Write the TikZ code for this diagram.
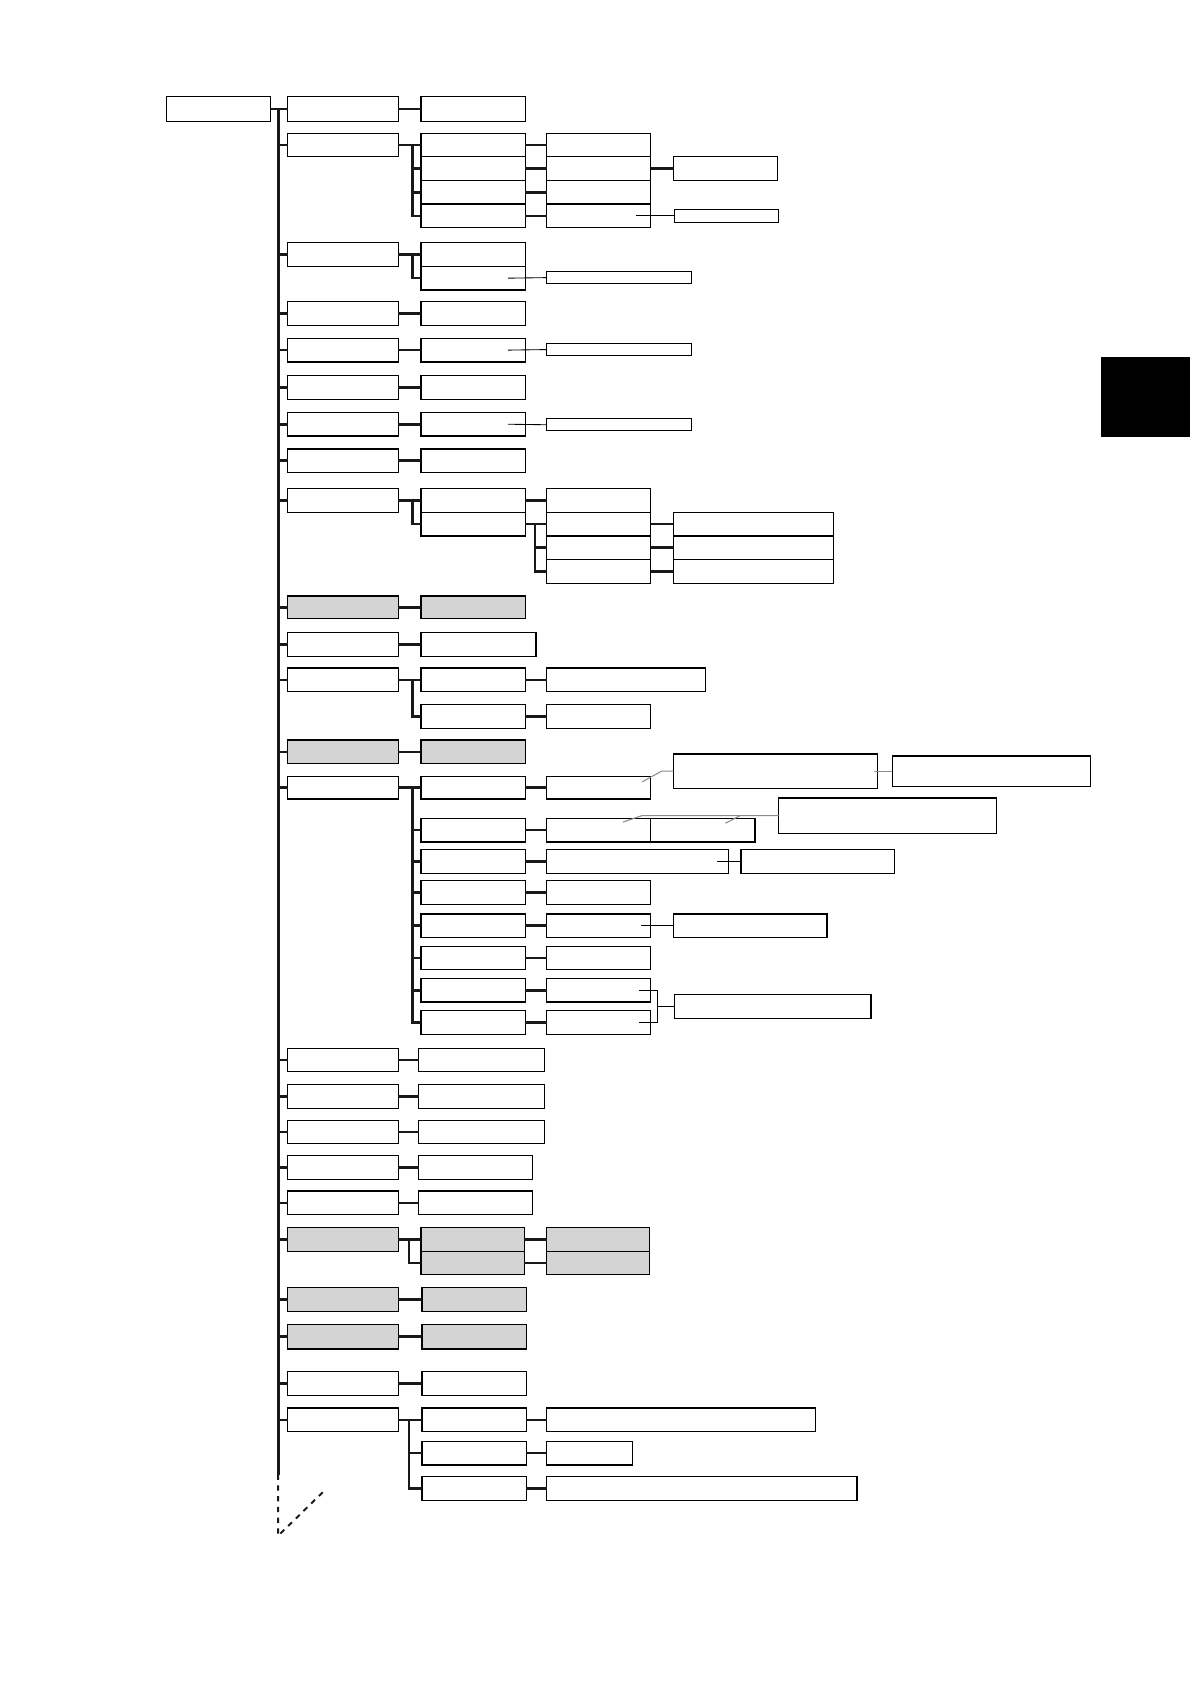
\documentclass[tikz,border=0pt]{standalone}
\usetikzlibrary{calc}
\definecolor{boxgrey}{RGB}{212,212,212}
\tikzset{
  box/.style={draw=black, line width=1.1pt, inner sep=0pt, outer sep=0pt, rectangle, fill=white},
  gbox/.style={box, fill=boxgrey},
  conn/.style={line width=2.4pt, draw=black!90},
  trunkline/.style={line width=2.6pt, draw=black!90},
  thinline/.style={line width=0.8pt, draw=black},
  greyline/.style={line width=1pt, draw=black!45},
  dashline/.style={line width=1.8pt, draw=black!90, dash pattern=on 5pt off 5pt},
}
\newcommand{\BX}[6][]{\node[box,#1,minimum width=#5pt,minimum height=#6pt,anchor=north west] (#2) at (#3,#4) {};}
\newcommand{\LR}[2]{\draw[conn] (#1.east) -- (#2.west);}
\newcommand{\TK}[1]{\draw[conn] (#1.west) -- (#1.west -| trunkTop);}
\newcommand{\MID}[2]{\draw[conn] (#2.west -| #1) -- (#2.west);}
\begin{document}
\begin{tikzpicture}[x=1pt,y=-1pt]
\useasboundingbox (0,0) rectangle (1108,1568);
\coordinate (trunkTop) at (259,101);
\coordinate (trunkEnd) at (259,1373);
\coordinate (dashEnd) at (259,1430);
\coordinate (diagEnd) at (303,1387);
\coordinate (brA) at (384,0);
\coordinate (brB) at (498,0);
\coordinate (brC) at (381,0);
\coordinate (brD) at (612,0);

\draw[trunkline] (trunkTop) -- (trunkEnd);
\draw[dashline] (trunkEnd) -- (dashEnd) -- (diagEnd);

% black tab
\node[fill=black, draw=none, minimum width=83pt, minimum height=75pt, inner sep=0pt, anchor=north west] (tab) at (1025,332) {};

% Row 1
\BX{root}{155}{90}{97}{23}
\BX{r1a}{268}{90}{103}{23}
\BX{r1b}{392}{90}{97}{23}
\draw[conn] (root.east) -- (r1a.west);
\LR{r1a}{r1b}

% Row 2
\BX{r2a}{268}{124}{103}{22}
\BX{r2b1}{392}{124}{97}{22}
\BX{r2b2}{392}{146}{97}{22}
\BX{r2b3}{392}{168}{97}{22}
\BX{r2b4}{392}{190}{97}{22}
\BX{r2c1}{509}{124}{97}{22}
\BX{r2c2}{509}{146}{97}{22}
\BX{r2c3}{509}{168}{97}{22}
\BX{r2c4}{509}{190}{97}{22}
\BX{r2d}{627}{146}{97}{22}
\BX{r2e}{628}{195}{97}{12}
\TK{r2a}
\LR{r2a}{r2b1}
\draw[conn] (r2a.east -| brA) |- (r2b4.west);
\MID{brA}{r2b2}
\MID{brA}{r2b3}
\LR{r2b1}{r2c1}
\LR{r2b2}{r2c2}
\LR{r2b3}{r2c3}
\LR{r2b4}{r2c4}
\LR{r2c2}{r2d}
\coordinate (f2) at (592,201);
\draw[thinline] (f2) -- (r2e.west);

% Row 3
\BX{r3a}{268}{226}{103}{22}
\BX{r3b1}{392}{226}{97}{22}
\BX{r3b2}{392}{248}{97}{22}
\BX{r3c}{509}{253}{135}{11}
\TK{r3a}
\LR{r3a}{r3b1}
\draw[conn] (r3a.east -| brA) |- (r3b2.west);
\coordinate (f3) at (473,259);
\draw[thinline] (f3) -- (r3c.west);

% Row 4
\BX{r4a}{268}{281}{103}{22}
\BX{r4b}{392}{281}{97}{22}
\TK{r4a}\LR{r4a}{r4b}

% Row 5
\BX{r5a}{268}{315}{103}{22}
\BX{r5b}{392}{315}{97}{22}
\BX{r5c}{509}{320}{135}{11}
\TK{r5a}\LR{r5a}{r5b}
\coordinate (f5) at (473,326);
\draw[thinline] (f5) -- (r5c.west);

% Row 6
\BX{r6a}{268}{350}{103}{22}
\BX{r6b}{392}{350}{97}{22}
\TK{r6a}\LR{r6a}{r6b}

% Row 7
\BX{r7a}{268}{384}{103}{22}
\BX{r7b}{392}{384}{97}{22}
\BX{r7c}{509}{390}{135}{11}
\TK{r7a}\LR{r7a}{r7b}
\coordinate (f7) at (473,395);
\draw[thinline] (f7) -- (r7c.west);

% Row 8
\BX{r8a}{268}{418}{103}{22}
\BX{r8b}{392}{418}{97}{22}
\TK{r8a}\LR{r8a}{r8b}

% Row 9
\BX{r9a}{268}{455}{103}{22}
\BX{r9b1}{392}{455}{97}{22}
\BX{r9b2}{392}{477}{97}{22}
\BX{r9c1}{509}{455}{97}{22}
\BX{r9c2}{509}{477}{97}{22}
\BX{r9c3}{509}{499}{97}{22}
\BX{r9c4}{509}{521}{97}{22}
\BX{r9d2}{627}{477}{149}{22}
\BX{r9d3}{627}{499}{149}{22}
\BX{r9d4}{627}{521}{149}{22}
\TK{r9a}
\LR{r9a}{r9b1}
\draw[conn] (r9a.east -| brA) |- (r9b2.west);
\LR{r9b1}{r9c1}
\LR{r9b2}{r9c2}
\draw[conn] (r9b2.east -| brB) |- (r9c4.west);
\MID{brB}{r9c3}
\LR{r9c2}{r9d2}
\LR{r9c3}{r9d3}
\LR{r9c4}{r9d4}

% Row 10 (grey)
\BX[gbox]{r10a}{268}{555}{103}{21}
\BX[gbox]{r10b}{392}{555}{97}{21}
\TK{r10a}\LR{r10a}{r10b}

% Row 11
\BX{r11a}{268}{589}{103}{22}
\BX{r11b}{392}{589}{107}{22}
\TK{r11a}\LR{r11a}{r11b}

% Row 12
\BX{r12a}{268}{622}{103}{22}
\BX{r12b1}{392}{622}{97}{22}
\BX{r12b2}{392}{656}{97}{22}
\BX{r12c1}{509}{622}{148}{22}
\BX{r12c2}{509}{656}{97}{22}
\TK{r12a}
\LR{r12a}{r12b1}
\draw[conn] (r12a.east -| brA) |- (r12b2.west);
\LR{r12b1}{r12c1}
\LR{r12b2}{r12c2}

% Row 13 (grey)
\BX[gbox]{r13a}{268}{689}{103}{22}
\BX[gbox]{r13b}{392}{689}{97}{22}
\TK{r13a}\LR{r13a}{r13b}

% Row 14
\BX{r14a}{268}{723}{103}{21}
\BX{r14b1}{392}{723}{97}{21}
\BX{r14b2}{392}{762}{97}{22}
\BX{r14b3}{392}{791}{97}{22}
\BX{r14b4}{392}{820}{97}{22}
\BX{r14b5}{392}{851}{97}{22}
\BX{r14b6}{392}{881}{97}{22}
\BX{r14b7}{392}{911}{97}{22}
\BX{r14b8}{392}{941}{97}{22}
\BX{r14c1}{509}{723}{97}{21}
\BX{r14c2}{509}{762}{97}{22}
\BX{r14c3}{509}{791}{169}{22}
\BX{r14c4}{509}{820}{97}{22}
\BX{r14c5}{509}{851}{97}{22}
\BX{r14c6}{509}{881}{97}{22}
\BX{r14c7}{509}{911}{97}{22}
\BX{r14c8}{509}{941}{97}{22}
\BX{r14x}{606}{762}{97}{22}
\BX{r14a1}{627}{702}{190}{32}
\BX{r14a2}{831}{704}{184}{28}
\BX{r14bx}{725}{743}{203}{33}
\BX{r14cx}{690}{791}{143}{22}
\BX{r14ex}{627}{851}{143}{22}
\BX{r14gx}{628}{926}{183}{22}
\TK{r14a}
\LR{r14a}{r14b1}
\draw[conn] (r14a.east -| brA) |- (r14b8.west);
\MID{brA}{r14b2}\MID{brA}{r14b3}\MID{brA}{r14b4}
\MID{brA}{r14b5}\MID{brA}{r14b6}\MID{brA}{r14b7}
\LR{r14b1}{r14c1}\LR{r14b2}{r14c2}\LR{r14b3}{r14c3}\LR{r14b4}{r14c4}
\LR{r14b5}{r14c5}\LR{r14b6}{r14c6}\LR{r14b7}{r14c7}\LR{r14b8}{r14c8}
\coordinate (fa1) at (598,728);
\coordinate (fa2) at (616,718);
\draw[greyline] (fa1) -- (fa2) -- (r14a1.west);
\draw[greyline] ($(r14a1.east)+(-3,0)$) -- (r14a2.west);
\coordinate (fb1) at (580,765.5);
\coordinate (fb2) at (597.5,759.5);
\coordinate (fb3) at (675.5,766.5);
\coordinate (fb4) at (689,759.5);
\draw[greyline] (fb1) -- (fb2) -- (r14bx.west);
\draw[greyline] (fb3) -- (fb4);
\coordinate (fc) at (668,802);
\draw[thinline] (fc) -- (r14cx.west);
\coordinate (fe) at (597,862);
\draw[thinline] (fe) -- (r14ex.west);
\coordinate (fg) at (595,922);
\coordinate (fh) at (595,952);
\draw[thinline] (fg) -- (fg -| brD) -- (fh -| brD) -- (fh);
\draw[thinline] (r14gx.west -| brD) -- (r14gx.west);

% Rows 15-19
\BX{r15a}{268}{976}{103}{22}
\BX{r15b}{390}{976}{117}{22}
\TK{r15a}\LR{r15a}{r15b}
\BX{r16a}{268}{1010}{103}{22}
\BX{r16b}{390}{1010}{117}{22}
\TK{r16a}\LR{r16a}{r16b}
\BX{r17a}{268}{1043}{103}{22}
\BX{r17b}{390}{1043}{117}{22}
\TK{r17a}\LR{r17a}{r17b}
\BX{r18a}{268}{1076}{103}{22}
\BX{r18b}{390}{1076}{106}{22}
\TK{r18a}\LR{r18a}{r18b}
\BX{r19a}{268}{1109}{103}{22}
\BX{r19b}{390}{1109}{106}{22}
\TK{r19a}\LR{r19a}{r19b}

% Row 20 (grey)
\BX[gbox]{r20a}{268}{1143}{103}{22}
\BX[gbox]{r20b1}{392}{1143}{96}{22}
\BX[gbox]{r20b2}{392}{1165}{96}{22}
\BX[gbox]{r20c1}{509}{1143}{96}{22}
\BX[gbox]{r20c2}{509}{1165}{96}{22}
\TK{r20a}
\LR{r20a}{r20b1}
\draw[conn] (r20a.east -| brC) |- (r20b2.west);
\LR{r20b1}{r20c1}
\LR{r20b2}{r20c2}

% Rows 21-23
\BX[gbox]{r21a}{268}{1199}{103}{22}
\BX[gbox]{r21b}{393}{1199}{97}{22}
\TK{r21a}\LR{r21a}{r21b}
\BX[gbox]{r22a}{268}{1233}{103}{23}
\BX[gbox]{r22b}{393}{1233}{97}{23}
\TK{r22a}\LR{r22a}{r22b}
\BX{r23a}{268}{1277}{103}{22}
\BX{r23b}{393}{1277}{97}{22}
\TK{r23a}\LR{r23a}{r23b}

% Row 24
\BX{r24a}{268}{1311}{103}{22}
\BX{r24b1}{393}{1311}{97}{22}
\BX{r24b2}{393}{1342}{97}{22}
\BX{r24b3}{393}{1375}{97}{22}
\BX{r24c1}{509}{1311}{250}{22}
\BX{r24c2}{509}{1342}{80}{22}
\BX{r24c3}{509}{1375}{289}{22}
\TK{r24a}
\LR{r24a}{r24b1}
\draw[conn] (r24a.east -| brC) |- (r24b3.west);
\MID{brC}{r24b2}
\LR{r24b1}{r24c1}
\LR{r24b2}{r24c2}
\LR{r24b3}{r24c3}
\end{tikzpicture}
\end{document}
